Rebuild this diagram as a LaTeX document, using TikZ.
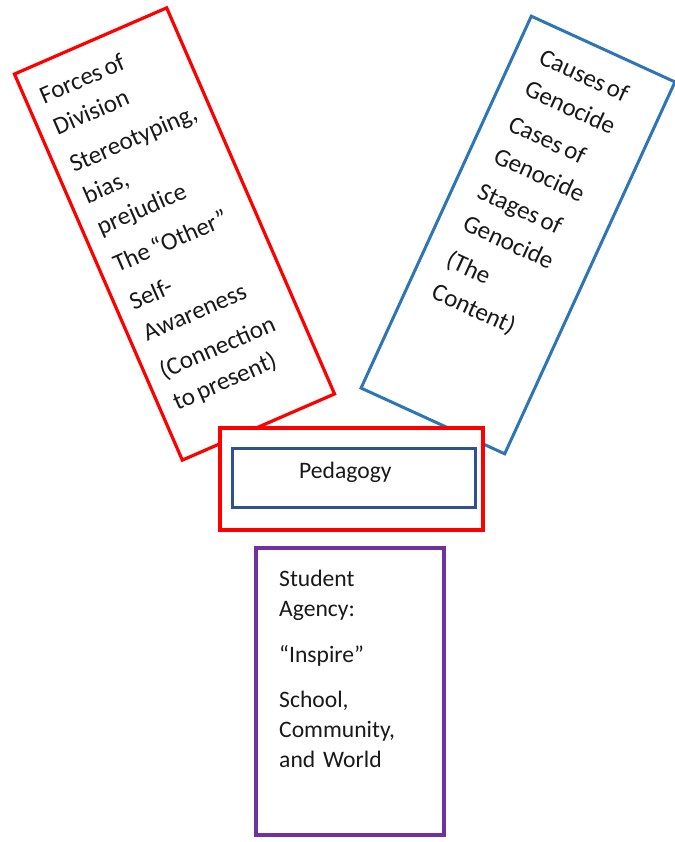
\documentclass[tikz,border=0pt]{standalone}
\usepackage{fontspec}
\setmainfont{Carlito}
\definecolor{boxred}{RGB}{255,0,0}
\definecolor{boxblue}{RGB}{46,117,182}
\definecolor{navyline}{RGB}{47,82,143}
\definecolor{violetline}{RGB}{112,48,160}
\definecolor{ink}{RGB}{25,25,25}
% narrow word spaces for the tilted lists
\newcommand{\tightwords}{\spaceskip=0.15em\relax}
\begin{document}
\begin{tikzpicture}[x=1pt,y=-1pt,
  frame/.style={draw=#1, line width=3.2pt, inner sep=0pt},
  tiltedtext/.style={inner sep=0pt, align=left, text=ink, text width=200pt,
    anchor=base west, font=\fontsize{25}{#1}\selectfont},
  flattext/.style={inner sep=0pt, align=left, text=ink, text width=170pt,
    anchor=base west, font=\fontsize{23.6}{30}\selectfont}]
\useasboundingbox (0,0) rectangle (674,842);
\fill[white] (0,0) rectangle (674,842);

% Forces of division (left, tilted)
\begin{scope}[shift={(174.5,234)}, rotate=23.5, transform shape]
  \node[frame=boxred, minimum width=166pt, minimum height=421pt] (forces) at (0,0) {};
  \node[tiltedtext=34] (forcestext) at (-68,-171)
    {\tightwords Forces of\\Division\\[7pt]
     Stereotyping,\\bias,\\prejudice\\[7pt]
     The “Other”\\[7pt]
     Self-\\Awareness\\[7pt]
     (Connection\\to present)};
\end{scope}

% Genocide content (right, tilted)
\begin{scope}[shift={(518,235)}, rotate=-24.6, transform shape]
  \node[frame=boxblue, line width=3pt, minimum width=158pt, minimum height=409pt] (content) at (0,0) {};
  \node[tiltedtext=35] (contenttext) at (-54,-164.5)
    {\tightwords Causes of\\Genocide\\[4pt]
     Cases of\\Genocide\\[4pt]
     Stages of\\Genocide\\[5pt]
     (The\\Content)};
\end{scope}

% Pedagogy (centre)
\node[frame=boxred, fill=white, minimum width=263pt, minimum height=102pt] (pedframe) at (351.5,479) {};
\node[frame=navyline, line width=3pt, minimum width=243pt, minimum height=59pt] (pedbox) at (353.5,477.5) {};
\node[flattext, text width=120pt] (pedtext) at (299,478) {Pedagogy};

% Student agency (bottom)
\node[frame=violetline, minimum width=188pt, minimum height=287pt] (agency) at (350,691.5) {};
\node[flattext] (agencytext) at (279,586)
  {Student\\Agency:\\[16pt]
   “Inspire”\\[15pt]
   School,\\Community,\\and World};
\end{tikzpicture}
\end{document}
